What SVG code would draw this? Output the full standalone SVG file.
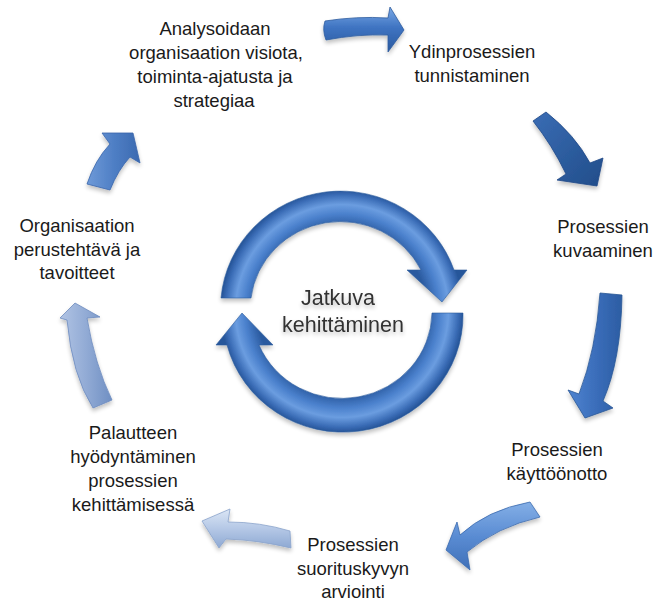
<svg xmlns="http://www.w3.org/2000/svg" width="660" height="602" viewBox="0 0 660 602">
  <defs>
    <style>
      .lbl { font-family: "Liberation Sans", Arial, sans-serif; font-size: 18.5px; fill: #1a1a1a; text-anchor: middle; }
      .core { font-family: "Liberation Sans", Arial, sans-serif; font-size: 21.5px; fill: #333333; text-anchor: middle; }
      .arw { stroke-width: 0.8; stroke-linejoin: round; }
    </style>
    <filter id="soft" x="-20%" y="-20%" width="140%" height="150%">
      <feGaussianBlur in="SourceAlpha" stdDeviation="2"/>
      <feOffset dx="0" dy="3" result="b"/>
      <feComponentTransfer><feFuncA type="linear" slope="0.25"/></feComponentTransfer>
      <feMerge><feMergeNode/><feMergeNode in="SourceGraphic"/></feMerge>
    </filter>
    <filter id="glow" x="-20%" y="-40%" width="140%" height="180%">
      <feMorphology in="SourceAlpha" operator="dilate" radius="1.5"/>
      <feGaussianBlur stdDeviation="1.5"/>
      <feComponentTransfer><feFuncA type="linear" slope="0.6"/></feComponentTransfer>
      <feFlood flood-color="#ffffff"/>
      <feMerge><feMergeNode in="SourceGraphic"/></feMerge>
    </filter>
    <!-- tube shading for the central cycle ring -->
    <radialGradient id="ring" gradientUnits="userSpaceOnUse" cx="342" cy="311" r="121">
      <stop offset="0.70" stop-color="#2a5a9f"/>
      <stop offset="0.80" stop-color="#4a80cc"/>
      <stop offset="0.88" stop-color="#6b9de0"/>
      <stop offset="0.96" stop-color="#3a6cb6"/>
      <stop offset="1" stop-color="#27569a"/>
    </radialGradient>
    <linearGradient id="g1" x1="0" y1="0" x2="0" y2="1">
      <stop offset="0" stop-color="#7aa9e6"/><stop offset="0.45" stop-color="#3f74c2"/><stop offset="1" stop-color="#2a5a9f"/>
    </linearGradient>
    <linearGradient id="g2" x1="0" y1="0" x2="1" y2="1">
      <stop offset="0" stop-color="#3a6cb4"/><stop offset="0.5" stop-color="#2d5d9f"/><stop offset="1" stop-color="#224d8a"/>
    </linearGradient>
    <linearGradient id="g3" x1="0" y1="0" x2="1" y2="0">
      <stop offset="0" stop-color="#4f84d0"/><stop offset="0.5" stop-color="#3b6ebb"/><stop offset="1" stop-color="#2c5da3"/>
    </linearGradient>
    <linearGradient id="g4" x1="0" y1="0" x2="0" y2="1">
      <stop offset="0" stop-color="#84afe6"/><stop offset="0.5" stop-color="#5a8cd3"/><stop offset="1" stop-color="#3f70b8"/>
    </linearGradient>
    <linearGradient id="g5" x1="0" y1="0" x2="0" y2="1">
      <stop offset="0" stop-color="#dbe6f5"/><stop offset="0.5" stop-color="#b5c8e6"/><stop offset="1" stop-color="#8ea9d3"/>
    </linearGradient>
    <linearGradient id="g6" x1="0" y1="0" x2="1" y2="0">
      <stop offset="0" stop-color="#b1c4e4"/><stop offset="0.5" stop-color="#92abd5"/><stop offset="1" stop-color="#6f8fc3"/>
    </linearGradient>
    <linearGradient id="g7" x1="0" y1="0" x2="1" y2="0">
      <stop offset="0" stop-color="#6e9ad8"/><stop offset="0.5" stop-color="#4f7fc5"/><stop offset="1" stop-color="#3b69b0"/>
    </linearGradient>
  </defs>

  <rect width="660" height="602" fill="#ffffff"/>

  <!-- process steps -->
  <g id="analysointi">
    <text class="lbl" x="215" y="35">Analysoidaan</text>
    <text class="lbl" x="216" y="59">organisaation visiota,</text>
    <text class="lbl" x="215" y="83">toiminta-ajatusta ja</text>
    <text class="lbl" x="214" y="107">strategiaa</text>
  </g>
  <g id="ydinprosessit">
    <text class="lbl" x="472" y="58">Ydinprosessien</text>
    <text class="lbl" x="472" y="82">tunnistaminen</text>
  </g>
  <g id="kuvaaminen">
    <text class="lbl" x="603" y="233">Prosessien</text>
    <text class="lbl" x="603" y="257">kuvaaminen</text>
  </g>
  <g id="kayttoonotto">
    <text class="lbl" x="557" y="456">Prosessien</text>
    <text class="lbl" x="557" y="480">käyttöönotto</text>
  </g>
  <g id="arviointi">
    <text class="lbl" x="353" y="551">Prosessien</text>
    <text class="lbl" x="353" y="575">suorituskyvyn</text>
    <text class="lbl" x="353" y="598">arviointi</text>
  </g>
  <g id="palaute">
    <text class="lbl" x="133" y="439">Palautteen</text>
    <text class="lbl" x="133" y="463">hyödyntäminen</text>
    <text class="lbl" x="133" y="487">prosessien</text>
    <text class="lbl" x="133" y="511">kehittämisessä</text>
  </g>
  <g id="perustehtava">
    <text class="lbl" x="77" y="232">Organisaation</text>
    <text class="lbl" x="77" y="256">perustehtävä ja</text>
    <text class="lbl" x="77" y="279">tavoitteet</text>
  </g>

  <!-- central continuous-improvement cycle -->
  <g id="jatkuva" filter="url(#soft)">
    <path fill="url(#ring)" stroke="#2a5a9c" stroke-width="0.6"
          d="M221,298 A120,117 0 0 1 454,270 L467,270 L442,302 L407,270 L421,270 A90,87 0 0 0 251,298 Z"/>
    <path fill="url(#ring)" stroke="#2a5a9c" stroke-width="0.6"
          d="M463,313 A120,117 0 0 1 227,345 L216,345 L242,313 L273,345 L259,345 A90,87 0 0 0 432,313 Z"/>
    <g filter="url(#glow)">
      <text class="core" x="338" y="305">Jatkuva</text>
      <text class="core" x="343" y="332">kehittäminen</text>
    </g>
  </g>

  <!-- step-to-step arrows -->
  <g id="connectors" filter="url(#soft)">
    <path class="arw" fill="url(#g1)" stroke="#2d5c9e"
          d="M325,21 Q357,16 388,18 L390,7 L404,30 L388,52 L388,35 Q357,34 326,40 Q322,30 325,21 Z"/>
    <path class="arw" fill="url(#g2)" stroke="#1f4886"
          d="M546,112 Q575,135 590,163 L603,158 L597,186 L557,180 L566,174 Q552,145 533,121 Z"/>
    <path class="arw" fill="url(#g3)" stroke="#285796"
          d="M600,293 L622,295 Q621,360 603,401 L613,408 L585,418 L568,390 L579,394 Q596,350 600,293 Z"/>
    <path class="arw" fill="url(#g4)" stroke="#3a6aae"
          d="M530,502 L540,517 Q497,527 467,552 L470,570 L446,550 L457,522 L460,535 Q487,510 530,502 Z"/>
    <path class="arw" fill="url(#g5)" stroke="#8aa3cc"
          d="M290,531 L291,548 Q258,540 226,539 L219,548 L202,521 L230,509 L228,522 Q260,522 290,531 Z"/>
    <path class="arw" fill="url(#g6)" stroke="#6d8cbf"
          d="M67,320 Q72,375 93,408 L112,400 Q95,365 87,318 L100,317 L75,303 L60,318 Z"/>
    <path class="arw" fill="url(#g7)" stroke="#3a66ab"
          d="M87,184 Q95,160 110,144 L102,133 L133,133 L140,163 L130,157 Q118,170 110,190 Z"/>
  </g>
</svg>
